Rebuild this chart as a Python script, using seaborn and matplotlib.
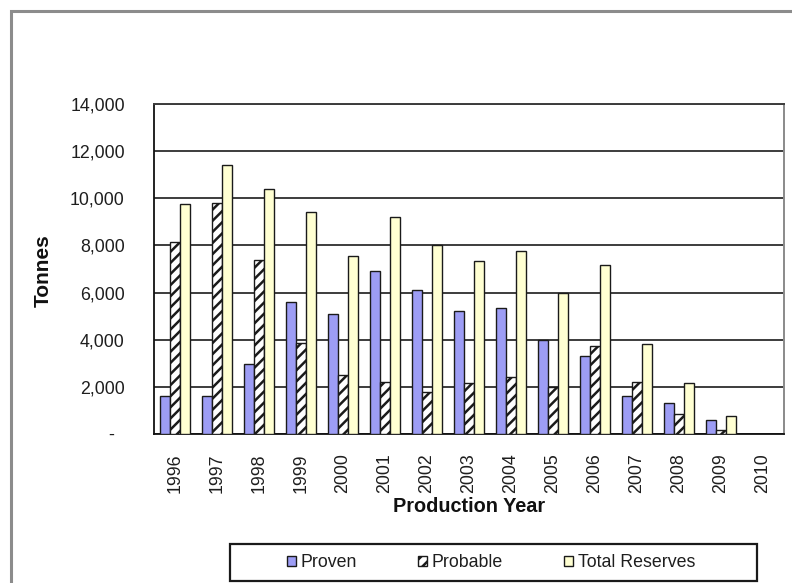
import matplotlib
matplotlib.use("Agg")
import matplotlib.pyplot as plt
from matplotlib.patches import Rectangle
from matplotlib.ticker import FixedLocator
import pandas as pd
import seaborn as sns

# Reserve estimates by production year (tonnes)
years = ["1996", "1997", "1998", "1999", "2000", "2001", "2002", "2003",
         "2004", "2005", "2006", "2007", "2008", "2009", "2010"]
proven = [1600, 1600, 2950, 5600, 5100, 6900, 6100, 5200,
          5350, 4000, 3300, 1600, 1300, 600, 0]
probable = [8150, 9800, 7400, 3850, 2500, 2200, 1800, 2150,
            2400, 2000, 3750, 2200, 850, 150, 0]
total_reserves = [9750, 11400, 10400, 9400, 7550, 9200, 8000, 7350,
                  7750, 6000, 7150, 3800, 2150, 750, 0]
series_names = ["Proven", "Probable", "Total Reserves"]
y_ticks = [0, 2000, 4000, 6000, 8000, 10000, 12000, 14000]

df = pd.DataFrame({
    "Year": years * 3,
    "Series": [series_names[0]] * len(years) + [series_names[1]] * len(years)
              + [series_names[2]] * len(years),
    "Tonnes": proven + probable + total_reserves,
})

sns.set_style("white")
plt.rcParams["font.family"] = ["Liberation Sans", "DejaVu Sans"]
plt.rcParams["hatch.color"] = "#3b1f45"
plt.rcParams["hatch.linewidth"] = 1.8

W, H = 792, 583
fig = plt.figure(figsize=(W / 100, H / 100), dpi=100)
fig.patch.set_facecolor("white")

def fx(px):
    return px / W

def fy(py):
    return 1 - py / H

ax = fig.add_axes([fx(154), fy(434), fx(784) - fx(154), fy(104) - fy(434)])

palette = {"Proven": "#9d9df5", "Probable": "#ffffff", "Total Reserves": "#ffffd2"}
sns.barplot(data=df, x="Year", y="Tonnes", hue="Series", hue_order=series_names,
            palette=palette, width=0.72, gap=0, edgecolor="#1a1a1a",
            linewidth=1.0, saturation=1, legend=False, ax=ax, zorder=3)

# hatched fill for the probable series
for bar in ax.containers[1]:
    bar.set_hatch("///")

ax.set_xlim(-0.5, len(years) - 0.5)
ax.set_ylim(0, 14000)

# y axis: thousands separators, zero shown as a dash
ax.set_yticks(y_ticks)
ax.set_yticklabels(["-  " if v == 0 else f"{v:,}" for v in y_ticks])
ax.tick_params(axis="y", which="major", direction="out", length=7, width=1.2,
               color="#111111", pad=14, labelsize=12.8, labelcolor="#1e1e1e")

# x axis: rotated year labels, boundary tick marks between categories
ax.tick_params(axis="x", which="major", length=0, pad=14, labelsize=12.8,
               labelcolor="#1e1e1e", labelrotation=90)
ax.xaxis.set_minor_locator(FixedLocator([i - 0.5 for i in range(len(years) + 1)]))
ax.tick_params(axis="x", which="minor", direction="out", length=4, width=1.0,
               color="#111111")

ax.yaxis.grid(True, color="#3c3c3c", linewidth=1.4, zorder=0)
ax.set_axisbelow(True)
for side in ("left", "bottom"):
    ax.spines[side].set_color("#111111")
    ax.spines[side].set_linewidth(1.3)
ax.spines["top"].set_color("#3c3c3c")
ax.spines["top"].set_linewidth(1.4)
ax.spines["right"].set_color("#8a8a8a")
ax.spines["right"].set_linewidth(1.4)

ax.set_xlabel("")
ax.set_ylabel("")
fig.text(fx(469), fy(507), "Production Year", ha="center", va="center",
         fontsize=14.3, fontweight="bold", color="#111111")
fig.text(fx(43), fy(271), "Tonnes", ha="center", va="center", rotation=90,
         fontsize=15, fontweight="bold", color="#111111")

# outer chart border
fig.patches.append(Rectangle((fx(11), -0.05), 1.2, fy(11) + 0.05,
                             transform=fig.transFigure, fill=False,
                             edgecolor="#8c8c8c", linewidth=2.2, zorder=0))

# legend inside its own framed box
fig.patches.append(Rectangle((fx(230), fy(581)), fx(757) - fx(230), fy(544) - fy(581),
                             transform=fig.transFigure, fill=False,
                             edgecolor="#1a1a1a", linewidth=1.6, zorder=1))
leg = fig.legend(ax.containers, series_names, loc="center",
                 bbox_to_anchor=(fx(491), fy(562.5)), ncol=3, frameon=False,
                 fontsize=12.8, handlelength=0.5, handleheight=0.5,
                 handletextpad=0.3, columnspacing=3.4)
for txt in leg.get_texts():
    txt.set_color("#1e1e1e")

fig.savefig("out.png", dpi=100, facecolor="white")
